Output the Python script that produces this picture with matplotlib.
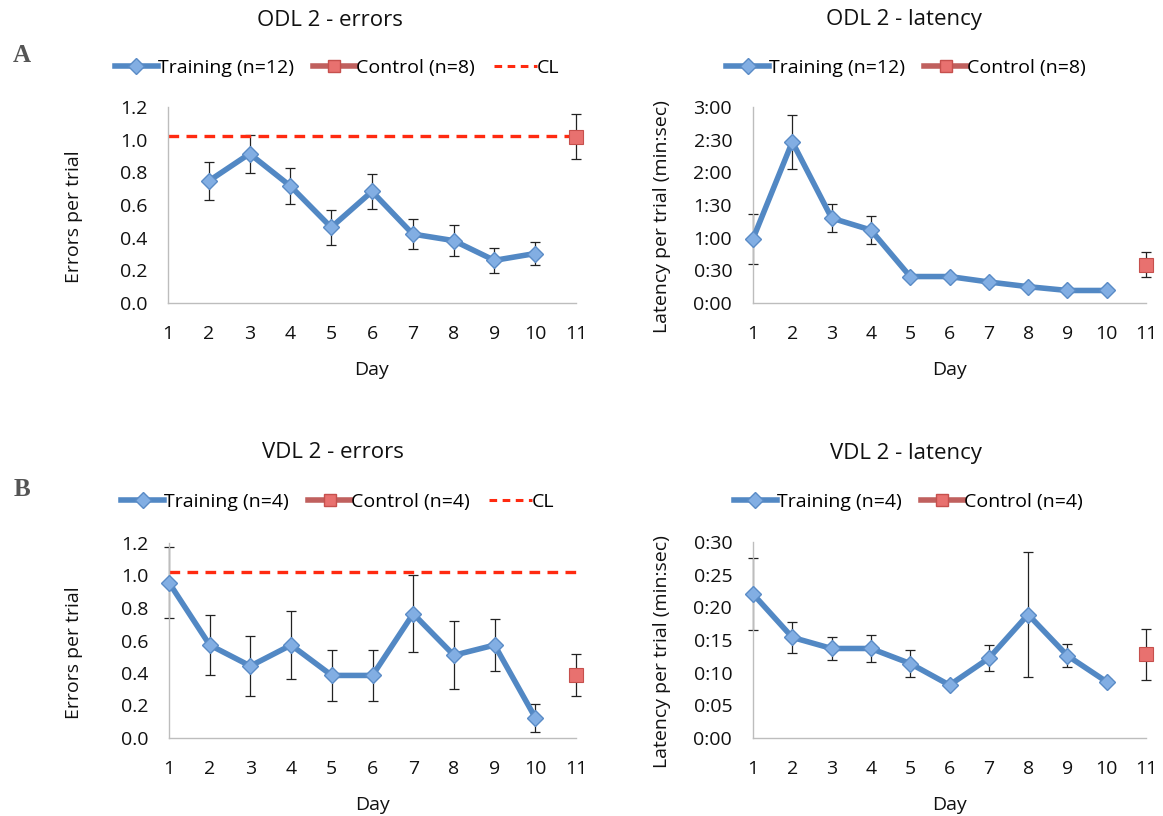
import matplotlib
matplotlib.use("Agg")
import matplotlib.pyplot as plt
from matplotlib.lines import Line2D
from matplotlib.ticker import FuncFormatter, MultipleLocator

plt.rcParams['font.family'] = ['Open Sans', 'DejaVu Sans']

# ---- data ----
days_odl = [2, 3, 4, 5, 6, 7, 8, 9, 10]
odl_err = [0.747, 0.914, 0.716, 0.463, 0.683, 0.422, 0.382, 0.261, 0.303]
odl_err_se = [0.118, 0.116, 0.112, 0.108, 0.108, 0.091, 0.094, 0.076, 0.073]
odl_err_ctrl = 1.019
odl_err_ctrl_se = 0.138

days_all = [1, 2, 3, 4, 5, 6, 7, 8, 9, 10]
odl_lat = [59, 148, 78, 67, 24.3, 24.3, 19.3, 15, 11.5, 11.5]   # seconds
odl_lat_se = [23, 24.7, 12.7, 13, 1.5, 1.5, 2.5, 1.2, 1.0, 1.0]
odl_lat_ctrl = 35
odl_lat_ctrl_se = 11.4

vdl_err = [0.956, 0.572, 0.443, 0.572, 0.385, 0.385, 0.765, 0.509, 0.572, 0.125]
vdl_err_se = [0.218, 0.186, 0.187, 0.208, 0.158, 0.158, 0.237, 0.208, 0.161, 0.086]
vdl_err_ctrl = 0.385
vdl_err_ctrl_se = 0.129

vdl_lat = [22.05, 15.4, 13.7, 13.7, 11.4, 8.1, 12.2, 18.9, 12.6, 8.6]   # seconds
vdl_lat_se = [5.5, 2.4, 1.8, 2.1, 2.1, 0.3, 2.0, 9.6, 1.8, 0.4]
vdl_lat_ctrl = 12.8
vdl_lat_ctrl_se = 3.85

cl_level = 1.02
ctrl_day = 11
day_ticks = list(range(1, 12))

# ---- style ----
LINE_BLUE = '#5288C4'
MARK_BLUE = '#82AEE3'
MARK_EDGE = '#5A8BC6'
CTRL_FACE = '#E8716F'
CTRL_EDGE = '#C6504D'
CTRL_LINE = '#C0605E'
CL_RED = '#FF2A10'
AXIS_GRAY = '#BDBDBD'
TXT = '#111111'
FS = 14
FS_TITLE = 16

W, H = 1163, 816
fig = plt.figure(figsize=(W / 100, H / 100), dpi=100)


def px_axes(x0, y0, x1, y1):
    # x0,y0 top-left; x1,y1 bottom-right in pixel coordinates
    return fig.add_axes([x0 / W, 1 - y1 / H, (x1 - x0) / W, (y1 - y0) / H])


def mmss(v, pos):
    v = int(round(v))
    return f"{v // 60}:{v % 60:02d}"


def style(ax, box, ylim, ystep, ylabel, ylabel_x, fmt=None):
    x0, y0, x1, y1 = box
    ax.set_xlim(1, 11)
    ax.set_ylim(*ylim)
    ax.set_xticks(day_ticks)
    ax.yaxis.set_major_locator(MultipleLocator(ystep))
    if fmt is not None:
        ax.yaxis.set_major_formatter(FuncFormatter(fmt))
    else:
        ax.yaxis.set_major_formatter(FuncFormatter(lambda v, p: f"{v:.1f}"))
    for s in ('top', 'right'):
        ax.spines[s].set_visible(False)
    for s in ('left', 'bottom'):
        ax.spines[s].set_color(AXIS_GRAY)
        ax.spines[s].set_linewidth(1.0)
    ax.tick_params(length=0, labelsize=FS, colors=TXT)
    ax.tick_params(axis='y', pad=15)
    ax.tick_params(axis='x', pad=16)
    ax.set_ylabel(ylabel, fontsize=FS, color=TXT)
    ax.yaxis.set_label_coords((ylabel_x - x0) / (x1 - x0), 0.5 - 12 / (y1 - y0))
    ax.set_xlabel('Day', fontsize=FS, color=TXT)
    ax.xaxis.set_label_coords(0.5, -67 / (y1 - y0))
    ax.xaxis.label.set_va('center')
    ax.yaxis.label.set_va('center')
    ax.patch.set_alpha(0)


def draw(ax, x, y, se, cy, cse, cl=None):
    ax.errorbar(x, y, yerr=se, fmt='none', ecolor='#222222', elinewidth=0.9,
                capsize=3.5, capthick=0.9, zorder=2, clip_on=False)
    ax.plot(x, y, color=LINE_BLUE, lw=4, marker='D', ms=8,
            mfc=MARK_BLUE, mec=MARK_EDGE, mew=1, zorder=3, clip_on=False)
    if cl is not None:
        ax.plot([1, ctrl_day], [cl, cl], color=CL_RED, lw=2.4,
                ls=(0, (3.2, 2.2)), zorder=2.5, clip_on=False)
    ax.errorbar([ctrl_day], [cy], yerr=[cse], fmt='none', ecolor='#222222',
                elinewidth=0.9, capsize=3.5, capthick=0.9, zorder=2, clip_on=False)
    ax.plot([ctrl_day], [cy], ls='none', marker='s', ms=10.5, mfc=CTRL_FACE,
            mec=CTRL_EDGE, mew=0.8, zorder=4, clip_on=False)


def legend(cx, cy_px, n_train, n_ctrl, with_cl):
    handles = [
        Line2D([], [], color=LINE_BLUE, lw=4, marker='D', ms=8,
               mfc=MARK_BLUE, mec=MARK_EDGE),
        Line2D([], [], color=CTRL_LINE, lw=4, marker='s', ms=9,
               mfc=CTRL_FACE, mec=CTRL_EDGE),
    ]
    labels = [f'Training (n={n_train})', f'Control (n={n_ctrl})']
    if with_cl:
        handles.append(Line2D([], [], color=CL_RED, lw=2.2, ls=(0, (2.5, 1.8))))
        labels.append('CL')
    fig.legend(handles, labels, loc='center', bbox_to_anchor=(cx / W, 1 - cy_px / H),
               ncol=len(handles), frameon=False, fontsize=FS, handlelength=2.2,
               handletextpad=0.0, columnspacing=1.0, borderaxespad=0)


box1 = (168, 107, 576, 303)
box2 = (753, 107, 1146, 303)
box3 = (169, 543, 576, 738)
box4 = (753, 542, 1146, 738)

# ---- A: ODL 2 errors ----
ax1 = px_axes(*box1)
draw(ax1, days_odl, odl_err, odl_err_se, odl_err_ctrl, odl_err_ctrl_se, cl=cl_level)
style(ax1, box1, (0, 1.2), 0.2, 'Errors per trial', 74)

# ---- A: ODL 2 latency ----
ax2 = px_axes(*box2)
draw(ax2, days_all, odl_lat, odl_lat_se, odl_lat_ctrl, odl_lat_ctrl_se)
style(ax2, box2, (0, 180), 30, 'Latency per trial (min:sec)', 662, fmt=mmss)

# ---- B: VDL 2 errors ----
ax3 = px_axes(*box3)
draw(ax3, days_all, vdl_err, vdl_err_se, vdl_err_ctrl, vdl_err_ctrl_se, cl=cl_level)
style(ax3, box3, (0, 1.2), 0.2, 'Errors per trial', 74)

# ---- B: VDL 2 latency ----
ax4 = px_axes(*box4)
draw(ax4, days_all, vdl_lat, vdl_lat_se, vdl_lat_ctrl, vdl_lat_ctrl_se)
style(ax4, box4, (0, 30), 5, 'Latency per trial (min:sec)', 662, fmt=mmss)

# titles
for x, y, t in [(330, 20, 'ODL 2 - errors'), (904, 20, 'ODL 2 - latency'),
                (333, 453, 'VDL 2 - errors'), (906, 453, 'VDL 2 - latency')]:
    fig.text(x / W, 1 - y / H, t, ha='center', va='center', fontsize=FS_TITLE, color=TXT)

# legends
legend(337, 68, 12, 8, True)
legend(906, 68, 12, 8, False)
legend(338, 502, 4, 4, True)
legend(908, 502, 4, 4, False)

# panel letters
for y, t in [(55, 'A'), (490, 'B')]:
    fig.text(22 / W, 1 - y / H, t, ha='center', va='center', fontsize=18,
             fontweight='bold', family='Liberation Serif', color='#555555')

fig.savefig('out.png', dpi=100)
